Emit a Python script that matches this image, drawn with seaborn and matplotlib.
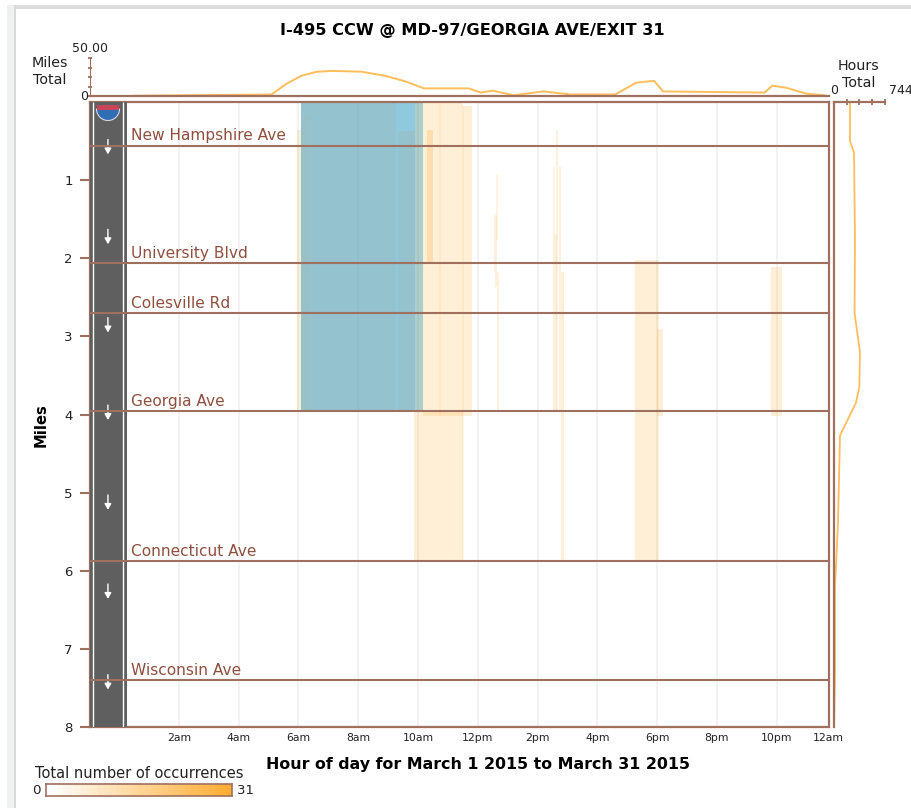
import numpy as np
import pandas as pd
import matplotlib
matplotlib.use("Agg")
import matplotlib.pyplot as plt
from matplotlib.patches import Rectangle, Wedge
from matplotlib.colors import LinearSegmentedColormap
import seaborn as sns

# --- data ---
title = "I-495 CCW @ MD-97/GEORGIA AVE/EXIT 31"
xlabel = "Hour of day for March 1 2015 to March 31 2015"

street_names = ["New Hampshire Ave", "University Blvd", "Colesville Rd",
                "Georgia Ave", "Connecticut Ave", "Wisconsin Ave"]
street_miles = [0.56, 2.06, 2.70, 3.96, 5.88, 7.40]
arrow_miles = [0.58, 1.73, 2.86, 3.98, 5.13, 6.27, 7.43]

hour_ticks = [2, 4, 6, 8, 10, 12, 14, 16, 18, 20, 22]
hour_labels = ["2am", "4am", "6am", "8am", "10am", "12pm", "2pm", "4pm", "6pm", "8pm", "10pm"]
mile_ticks = [1, 2, 3, 4, 5, 6, 7, 8]

# pale occurrence blocks: start hour, end hour, top mile, bottom mile, count
occ_start = [5.95, 10.17, 11.5, 9.87, 10.3, 10.7, 11.47, 12.54, 12.57, 12.64, 12.61,
             14.51, 14.51, 14.62, 14.72, 14.78, 17.26, 17.99, 21.81]
occ_end = [6.09, 11.5, 11.8, 11.5, 10.5, 10.77, 11.54, 12.64, 12.71, 12.71, 12.68,
           14.58, 14.65, 14.68, 14.78, 14.88, 18.06, 18.19, 22.17]
occ_top = [0.36, 0.0, 0.05, 3.96, 0.36, 0.0, 0.05, 1.45, 2.18, 2.37, 0.93,
           0.83, 1.70, 0.36, 0.83, 2.18, 2.02, 2.91, 2.11]
occ_bottom = [3.96, 4.02, 4.02, 5.88, 2.05, 4.02, 5.88, 2.18, 2.37, 3.96, 1.77,
              1.70, 3.96, 3.96, 3.96, 5.88, 5.88, 4.02, 4.02]
occ_count = [6, 6, 6, 6, 8, 3, 3, 5, 5, 5, 4,
             4, 5, 5, 5, 6, 6, 6, 6]

# congested blocks
cong_start = [6.09, 9.26, 9.33, 9.90, 6.29, 6.12]
cong_end = [9.26, 9.90, 10.0, 10.17, 6.40, 6.29]
cong_top = [0.0, 0.0, 0.37, 0.0, 0.18, 0.18]
cong_bottom = [3.96, 3.96, 3.96, 3.96, 3.96, 3.96]
cong_color = ["#94C3CF", "#8FC9DD", "#96C2CE", "#ABCFCC", "#97C1C6", "#97C1C6"]

# top margin, miles total by hour
top_hours = [0.5, 5.1, 5.6, 6.1, 6.6, 7.1, 8.1, 8.9, 9.6, 10.2, 11.7, 12.1, 12.5, 13.2, 14.2,
             15.1, 16.6, 17.3, 17.9, 18.2, 21.6, 21.85, 22.3, 23.0, 23.6]
top_miles = [0.3, 2, 16, 26.6, 31.8, 33, 32, 26.6, 19, 10, 10, 4.5, 7, 1, 6,
             2, 2, 17.5, 20, 6, 4.5, 13.6, 11, 3, 1]

# right margin, hours total by mile
side_miles = [0.01, 0.5, 0.65, 1.75, 2.7, 3.2, 3.65, 3.85, 4.27, 5.4, 6.2, 7.3, 8.0]
side_hours = [233, 233, 292, 306, 300, 379, 370, 320, 87, 58, 15, 15, 0]

BROWN = "#A0705F"
LABEL_BROWN = "#8E4F3F"
ORANGE = "#FFAD33"
DARK = "#222222"

W, H = 912, 808


def px_axes(fig, left, top, right, bottom, **kw):
    return fig.add_axes([left / W, 1 - bottom / H, (right - left) / W, (bottom - top) / H], **kw)


def main():
    sns.set_style("white")
    plt.rcParams["font.family"] = "DejaVu Sans"
    fig = plt.figure(figsize=(9.12, 8.08), dpi=100)

    # main panel
    ax = px_axes(fig, 90, 102, 829, 727)
    ax.set_xlim(-0.97, 23.75)
    ax.set_ylim(8, 0)

    for s, e, t, b, c in zip(occ_start, occ_end, occ_top, occ_bottom, occ_count):
        ax.bar(s, b - t, width=e - s, bottom=t, align="edge", color=ORANGE,
               alpha=c / 31, linewidth=0, zorder=1)
    for s, e, t, b, c in zip(cong_start, cong_end, cong_top, cong_bottom, cong_color):
        ax.bar(s, b - t, width=e - s, bottom=t, align="edge", color=c, linewidth=0, zorder=2)
    ax.vlines(hour_ticks, 0, 8, color="#B08A80", alpha=0.14, linewidth=1.2, zorder=3)

    # road strip
    ax.axvspan(-0.97, 0.27, color="#5F5F5F", zorder=4, linewidth=0)
    ax.vlines([-0.87, 0.13], 0, 8, color="white", linewidth=1.0, zorder=5)
    for m in arrow_miles:
        ax.annotate("", xy=(-0.37, m + 0.09), xytext=(-0.37, m - 0.10), zorder=6,
                    arrowprops=dict(arrowstyle="-|>,head_width=0.2,head_length=0.35",
                                    color="white", lw=1.0, shrinkA=0, shrinkB=0))

    for name, m in zip(street_names, street_miles):
        ax.axhline(m, color=BROWN, linewidth=1.5, zorder=7)
        ax.text(0.4, m - 0.03, name, color=LABEL_BROWN, fontsize=11.1, va="bottom", ha="left", zorder=8)

    ax.set_xticks(hour_ticks + [23.72])
    ax.set_xticklabels(hour_labels + ["12am"], fontsize=7.8, color=DARK)
    ax.set_yticks(mile_ticks)
    ax.set_yticklabels(mile_ticks, fontsize=9.5, color=DARK)
    ax.tick_params(axis="x", length=0, pad=4)
    ax.tick_params(axis="y", length=7, width=1.5, color=BROWN, pad=5.5, left=True)
    ax.set_ylabel("Miles", fontsize=10.6, fontweight="bold", color="black", labelpad=0)
    ax.yaxis.set_label_coords((49 - 90) / 739, (727 - 425) / 625)
    for side in ax.spines.values():
        side.set_color(BROWN)
        side.set_linewidth(1.6)

    # top margin
    top = px_axes(fig, 90, 58, 829, 96)
    top.patch.set_alpha(0)
    sns.lineplot(x=top_hours, y=top_miles, ax=top, color=ORANGE, alpha=0.8, linewidth=1.4,
                 estimator=None, sort=False)
    top.set_xlim(-0.97, 23.75)
    top.set_ylim(0, 50)
    top.set_xticks([])
    top.set_yticks([0, 12.5, 25, 37.5, 50])
    top.set_yticklabels([])
    top.tick_params(axis="y", length=3, width=1.3, color=BROWN, direction="inout", left=True)
    sns.despine(ax=top, right=True, top=True)
    top.spines["left"].set_color(BROWN)
    top.spines["bottom"].set_color(BROWN)
    top.spines["bottom"].set_linewidth(1.6)

    # right margin
    side = px_axes(fig, 834, 102, 885, 727)
    side.patch.set_alpha(0)
    sns.lineplot(x=side_hours, y=side_miles, ax=side, color=ORANGE, alpha=0.8, linewidth=1.3,
                 estimator=None, sort=False, orient="y")
    side.set_xlim(0, 744)
    side.set_ylim(8, 0)
    side.set_yticks([])
    side.set_xlabel("")
    side.set_ylabel("")
    sns.despine(ax=side, right=True, bottom=True, top=False)
    side.set_xticks([186, 372, 558, 744])
    side.set_xticklabels([])
    side.xaxis.tick_top()
    side.tick_params(axis="x", which="major", length=4, width=1.3, color=BROWN,
                     direction="inout", top=True, bottom=False)
    side.spines["left"].set_color(BROWN)
    side.spines["left"].set_linewidth(1.6)
    side.spines["top"].set_color(BROWN)
    side.spines["top"].set_linewidth(1.6)

    # colour legend
    leg = px_axes(fig, 46, 784, 232, 796)
    cmap = LinearSegmentedColormap.from_list("occ", ["white", ORANGE])
    sns.heatmap(np.arange(32).reshape(1, -1), ax=leg, cmap=cmap, cbar=False,
                xticklabels=False, yticklabels=False, vmin=0, vmax=31)
    for s in leg.spines.values():
        s.set_visible(True)
        s.set_color(BROWN)
        s.set_linewidth(1.2)

    # page furniture and text, in pixel coordinates
    ov = fig.add_axes([0, 0, 1, 1], zorder=10)
    ov.set_xlim(0, W)
    ov.set_ylim(H, 0)
    ov.axis("off")
    ov.add_patch(Rectangle((7, 5), 8, H, color="#EFF1F0", lw=0))
    ov.add_patch(Rectangle((14.5, 5), 1.5, H, color="#D9D9D9", lw=0))
    ov.add_patch(Rectangle((15, 5), W, 4, color="#DDDDDD", lw=0))
    ov.add_patch(Wedge((108, 109), 11.5, 0, 180, facecolor="#2F6DB5", edgecolor="#D8D8E8", lw=0.8))
    ov.add_patch(Rectangle((97, 105), 22, 5, color="#C8465C", lw=0))

    ov.text(472, 31, title, fontsize=11.7, fontweight="bold", ha="center", va="center", color="black")
    ov.text(478, 764, xlabel, fontsize=11.4, fontweight="bold", ha="center", va="center", color="black")
    for x, y, s in [(90, 48, "50.00"), (84, 96, "0"), (834, 91, "0"), (901, 91, "744"),
                    (36, 790, "0"), (246, 790, "31")]:
        ov.text(x, y, s, fontsize=9.6 if s in ("0", "31") and y == 790 else 9, ha="center", va="center", color=DARK)
    for x, y, s in [(50, 63, "Miles"), (50, 80, "Total"), (859, 66, "Hours"), (859, 83, "Total")]:
        ov.text(x, y, s, fontsize=10.3, ha="center", va="center", color=DARK)
    ov.text(139, 773, "Total number of occurrences", fontsize=10.5, ha="center", va="center", color=DARK)

    fig.savefig("out.png", dpi=100)
    plt.close(fig)


if __name__ == "__main__":
    main()
